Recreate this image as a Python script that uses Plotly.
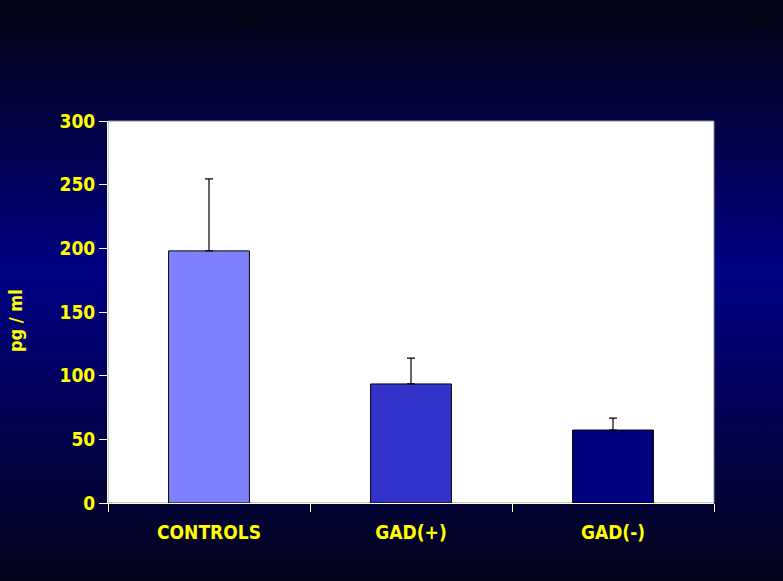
import base64
import plotly.graph_objects as go

categories = ["CONTROLS", "GAD(+)", "GAD(-)"]
values = [198, 93.5, 57.3]
errors_plus = [56.5, 20.2, 9.3]
bar_colors = ["#8080FF", "#3333CC", "#000080"]
y_ticks = [0, 50, 100, 150, 200, 250, 300]
y_title = "pg / ml"

W, H = 783, 581
ML, MR, MT, MB = 108, 69, 121, 78
PW, PH = W - ML - MR, H - MT - MB

svg = (
    '<svg xmlns="http://www.w3.org/2000/svg" width="783" height="581" preserveAspectRatio="none">'
    '<defs><linearGradient id="g" x1="0" y1="0" x2="0" y2="1">'
    '<stop offset="0" stop-color="#040410"/>'
    '<stop offset="0.47" stop-color="#000084"/>'
    '<stop offset="1" stop-color="#04041a"/>'
    '</linearGradient></defs>'
    '<rect width="783" height="581" fill="url(#g)"/></svg>'
)
svg_uri = "data:image/svg+xml;base64," + base64.b64encode(svg.encode()).decode()

font_family = "DejaVu Sans Condensed, DejaVu Sans, sans-serif"
yellow = "#FFFF00"

fig = go.Figure(
    go.Bar(
        x=categories,
        y=values,
        marker=dict(color=bar_colors, line=dict(color="#000000", width=1)),
        width=0.4,
        error_y=dict(type="data", array=errors_plus, arrayminus=[0, 0, 0],
                     symmetric=False, color="#000000", thickness=1.2, width=4),
    )
)

fig.update_layout(
    width=W, height=H,
    margin=dict(l=ML, r=MR, t=MT, b=MB, pad=0, autoexpand=False),
    paper_bgcolor="#000040",
    plot_bgcolor="#FFFFFF",
    showlegend=False,
    images=[dict(
        source=svg_uri, xref="paper", yref="paper",
        x=-ML / PW, y=1 + MT / PH, sizex=W / PW, sizey=H / PH,
        xanchor="left", yanchor="top", sizing="stretch", layer="below",
    )],
    shapes=[dict(type="rect", xref="paper", yref="paper", x0=0, y0=0, x1=1, y1=1,
                 line=dict(color="#8a8a9a", width=1), fillcolor="#FFFFFF", layer="below")],
    annotations=[dict(
        text=y_title, textangle=-90, showarrow=False,
        xref="paper", yref="paper", x=(15 - ML) / PW, y=(H - MB - 321) / PH,
        xanchor="center", yanchor="middle",
        font=dict(family=font_family, size=18, color=yellow, weight="bold"),
    )],
)

fig.update_xaxes(
    type="category",
    automargin=False,
    showgrid=False,
    showline=True, linecolor="#FFFFCC", linewidth=1,
    ticks="outside", tickson="boundaries", ticklen=8, tickcolor="#FFFFCC",
    tickfont=dict(family=font_family, size=19, color=yellow, weight="bold"),
    ticklabelstandoff=12,
)
fig.update_yaxes(
    range=[0, 300],
    automargin=False,
    tickvals=y_ticks,
    showgrid=False, zeroline=False,
    showline=True, linecolor="#FFFFCC", linewidth=1,
    ticks="outside", ticklen=8, tickcolor="#FFFFCC",
    tickfont=dict(family=font_family, size=19, color=yellow, weight="bold"),
)

fig.write_html(
    "out.html",
    config={"displayModeBar": False},
    post_script="document.body.style.margin='0';document.body.style.overflow='hidden';",
)
